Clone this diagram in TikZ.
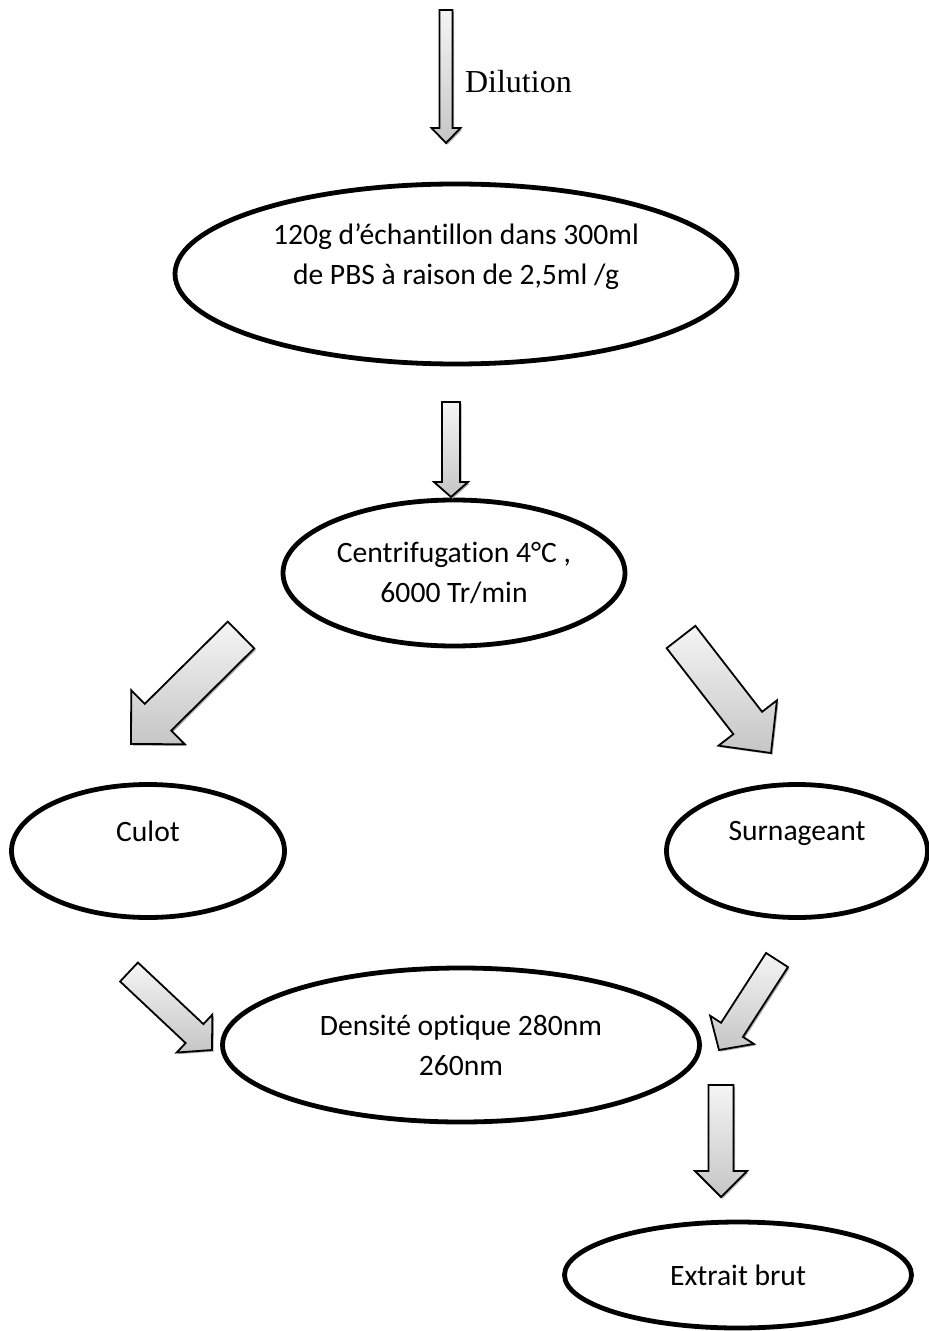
\documentclass[tikz,border=0pt]{standalone}
\usepackage{fontspec}
\setmainfont{Carlito}[Ligatures=CommonOff]
\newfontfamily\timesfont{Liberation Serif}
\usetikzlibrary{shapes.geometric, calc, shadows}

\tikzset{
  etape/.style={ellipse, draw=black, line width=2.4pt, inner sep=0pt, align=center,
    font=\fontsize{14.8}{20}\selectfont},
  fleche/.style={draw=black, line width=0.9pt, top color=gray!8, bottom color=gray!45,
    drop shadow={shadow xshift=0.8pt, shadow yshift=-0.8pt, fill=gray!70, opacity=1}},
}

% block arrow: tail, tip, shaft half width, head half width, head length
\newcommand{\blockarrow}[5]{%
  \coordinate (ba-b) at ($(#2)!#5!(#1)$);
  \path[fleche] ($(#1)!#3!90:(#2)$) -- ($(ba-b)!#3!-90:(#1)$) -- ($(ba-b)!#4!-90:(#1)$)
    -- (#2) -- ($(ba-b)!#4!90:(#1)$) -- ($(ba-b)!#3!90:(#1)$) -- ($(#1)!#3!-90:(#2)$) -- cycle;
}

\begin{document}
\begin{tikzpicture}[x=0.5pt, y=-0.5pt]
  \useasboundingbox (0,0) rectangle (928,1331);

  \node[etape, minimum width=281pt, minimum height=90pt] (echant) at (456,274)
    {120g d’échantillon dans 300ml\\de PBS à raison de 2,5ml /g\\\mbox{}};
  \node[etape, minimum width=171pt, minimum height=73pt] (centrif) at (454,573)
    {Centrifugation 4°C ,\\6000 Tr/min};
  \node[etape, minimum width=136.5pt, minimum height=66.5pt] (culot) at (148,851)
    {Culot\\\mbox{}};
  \node[etape, minimum width=130.5pt, minimum height=66.5pt] (surn) at (797,851)
    {Surnageant\\\mbox{}};
  \node[etape, minimum width=238.5pt, minimum height=77pt] (densite) at (461,1045)
    {Densité optique 280nm\\260nm};
  \node[etape, minimum width=173.5pt, minimum height=53pt] (extrait) at (738,1275)
    {Extrait brut};

  \node[anchor=west, font=\timesfont\fontsize{16}{20}\selectfont] (dilution) at (458,82) {Dilution};

  % arrow ends
  \coordinate (d0) at (446,10);   \coordinate (d1) at (446,143);
  \coordinate (c0) at (451,402);  \coordinate (c1) at (451,497);
  \coordinate (g0) at (241,635);  \coordinate (g1) at (131,744);
  \coordinate (r0) at (681,637);  \coordinate (r1) at (771,753);
  \coordinate (gg0) at (129,972); \coordinate (gg1) at (212,1050);
  \coordinate (rr0) at (777,960); \coordinate (rr1) at (719,1050);
  \coordinate (x0) at (721,1085); \coordinate (x1) at (721,1197);

  \blockarrow{d0}{d1}{3.25pt}{7.25pt}{7.5pt}
  \blockarrow{c0}{c1}{4.5pt}{8.5pt}{7.5pt}
  \blockarrow{g0}{g1}{9.4pt}{19pt}{19pt}
  \blockarrow{r0}{r1}{9.1pt}{18.5pt}{19pt}
  \blockarrow{gg0}{gg1}{6.5pt}{13pt}{12pt}
  \blockarrow{rr0}{rr1}{6.5pt}{13pt}{12pt}
  \blockarrow{x0}{x1}{6.25pt}{13pt}{13pt}
\end{tikzpicture}
\end{document}
